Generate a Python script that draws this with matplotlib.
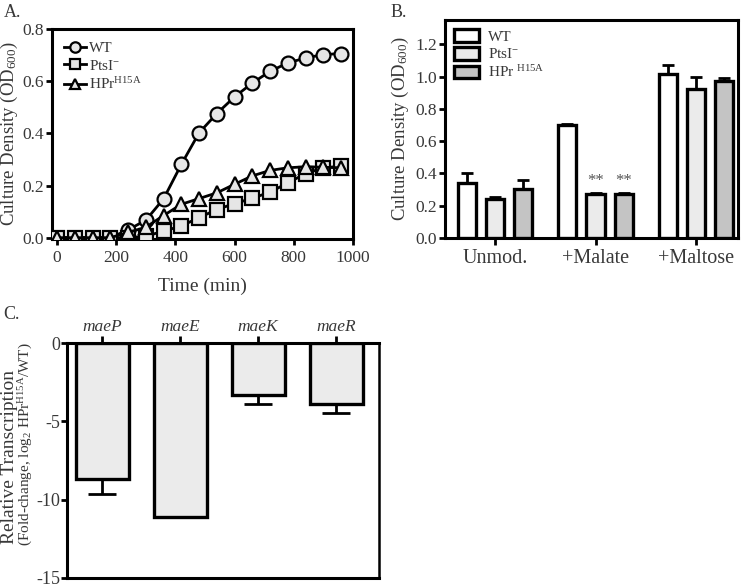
import matplotlib
matplotlib.use("Agg")
import matplotlib.pyplot as plt
import numpy as np

plt.rcParams['font.family'] = ['Liberation Serif', 'DejaVu Serif']
plt.rcParams['mathtext.fontset'] = 'custom'
plt.rcParams['mathtext.rm'] = 'Liberation Serif'
plt.rcParams['mathtext.it'] = 'Liberation Serif:italic'

TXT = '#383838'

# ---------------- Data ----------------
# Panel A: growth curves
time_min = [0, 60, 120, 180, 240, 300, 360, 420, 480, 540, 600, 660, 720, 780, 840, 900, 960]
wt_od = [0.0, 0.0, 0.0, 0.0, 0.03, 0.067, 0.149, 0.281, 0.402, 0.476, 0.54, 0.593, 0.638, 0.67, 0.689, 0.702, 0.706]
ptsI_od = [0.0, 0.0, 0.0, 0.0, 0.0, 0.006, 0.025, 0.045, 0.077, 0.108, 0.131, 0.151, 0.175, 0.21, 0.246, 0.268, 0.274]
hpr_od = [0.0, 0.0, 0.0, 0.0, 0.02, 0.04, 0.085, 0.128, 0.15, 0.172, 0.205, 0.237, 0.258, 0.268, 0.272, 0.27, 0.268]

# Panel B: final densities
conditions = ['Unmod.', '+Malate', '+Maltose']
wt_bar = [0.34, 0.70, 1.015]
wt_err = [0.06, 0.008, 0.055]
ptsI_bar = [0.24, 0.275, 0.92]
ptsI_err = [0.012, 0.003, 0.08]
hpr_bar = [0.305, 0.27, 0.97]
hpr_err = [0.055, 0.01, 0.022]
strain_labels = ['WT', 'PtsI$^{-}$', 'HPr $^{\\mathrm{H15A}}$']

# Panel C: relative transcription
genes = ['maeP', 'maeE', 'maeK', 'maeR']
rel_tx = [-8.65, -11.1, -3.3, -3.9]
rel_err = [1.0, 0.0, 0.58, 0.58]

# ---------------- Figure ----------------
W, H = 750, 586
fig = plt.figure(figsize=(W / 100, H / 100), dpi=100)

def ax_px(l, r, t, b):
    return fig.add_axes([l / W, (H - b) / H, (r - l) / W, (b - t) / H])

def style_spines(ax, lw=2.2):
    for s in ax.spines.values():
        s.set_linewidth(lw)

# ---- Panel A ----
axA = ax_px(52, 353, 29, 239)
mk = dict(markersize=10, markeredgewidth=1.6, markeredgecolor='black',
          markerfacecolor='#e6e6e6', color='black', linewidth=2.0)
axA.plot(time_min, wt_od, marker='o', label='WT', zorder=3, **mk)
axA.plot(time_min, ptsI_od, marker='s', label='PtsI$^{-}$', zorder=4, **mk)
axA.plot(time_min, hpr_od, marker='^', label='HPr$^{\\mathrm{H15A}}$', zorder=5, **mk)
axA.set_xlim(-17, 1000)
axA.set_ylim(-0.005, 0.8)
axA.set_xticks(np.arange(0, 1001, 200))
axA.set_yticks(np.arange(0, 0.81, 0.2))
axA.set_yticklabels([f'{v:.1f}' for v in np.arange(0, 0.81, 0.2)])
axA.tick_params(axis='y', direction='out', length=4, width=2, labelsize=12.5, labelcolor=TXT, pad=1.5)
axA.tick_params(axis='x', direction='out', length=4, width=2, labelsize=12.5, labelcolor=TXT, pad=4)
axA.set_xlabel('Time (min)', fontsize=14, color=TXT, labelpad=8)
axA.set_ylabel('Culture Density (OD$_{600}$)', fontsize=13.5, color=TXT, labelpad=2)
style_spines(axA)
axA.legend(loc='upper left', frameon=False, fontsize=11, handlelength=1.4,
           markerscale=0.75, borderaxespad=0.4, labelspacing=0.25,
           handletextpad=0.2, labelcolor=TXT)

# ---- Panel B ----
axB = ax_px(445, 738, 20, 238)
xg = np.arange(len(conditions))
off = 0.28
bw = 0.18
bkw = dict(edgecolor='black', linewidth=2.4, zorder=3)
ekw = dict(elinewidth=2.0, capthick=2.0, ecolor='black')
axB.bar(xg - off, wt_bar, bw, color='white', label=strain_labels[0], **bkw)
axB.bar(xg, ptsI_bar, bw, color='#ebebeb', label=strain_labels[1], **bkw)
axB.bar(xg + off, hpr_bar, bw, color='#c4c4c4', label=strain_labels[2], **bkw)
for xs, vals, errs in [(xg - off, wt_bar, wt_err), (xg, ptsI_bar, ptsI_err), (xg + off, hpr_bar, hpr_err)]:
    axB.errorbar(xs, vals, yerr=[np.zeros(len(errs)), errs], fmt='none', capsize=4.5, zorder=2, **ekw)
axB.text(1, 0.355, '**', ha='center', va='center', fontsize=12, color='#555555')
axB.text(1 + off, 0.355, '**', ha='center', va='center', fontsize=12, color='#555555')
axB.set_xlim(-0.5, 2.42)
axB.set_ylim(0, 1.35)
axB.set_yticks(np.arange(0, 1.21, 0.2))
axB.set_yticklabels([f'{v:.1f}' for v in np.arange(0, 1.21, 0.2)])
axB.set_xticks(xg)
axB.set_xticklabels(conditions)
axB.tick_params(axis='y', direction='out', length=4, width=2, labelsize=12.5, labelcolor=TXT, pad=1.5)
axB.tick_params(axis='x', direction='out', length=5, width=2, labelsize=14.5, labelcolor=TXT, pad=3)
axB.set_ylabel('Culture Density (OD$_{600}$)', fontsize=13.5, color=TXT, labelpad=3)
style_spines(axB)
axB.legend(loc='upper left', frameon=False, fontsize=11, handlelength=1.6, handleheight=0.9,
           borderaxespad=0.2, labelspacing=0.2, handletextpad=0.6, labelcolor=TXT)

# ---- Panel C ----
axC = ax_px(67, 379, 343, 578)
xc = np.arange(len(genes))
axC.bar(xc, rel_tx, 0.68, color='#ebebeb', edgecolor='black', linewidth=2.4, zorder=3)
axC.errorbar(xc, rel_tx, yerr=[rel_err, np.zeros(len(rel_err))], fmt='none', capsize=10,
             elinewidth=2.0, capthick=2.0, ecolor='black', zorder=2)
axC.set_xlim(-0.45, 3.55)
axC.set_ylim(-15, 0)
axC.set_yticks([0, -5, -10, -15])
axC.set_yticklabels(['0', '-5', '-10', '-15'])
axC.xaxis.tick_top()
axC.set_xticks(xc)
axC.set_xticklabels(genes, fontstyle='italic')
axC.tick_params(axis='x', direction='out', length=5, width=2, labelsize=12.5, labelcolor=TXT, pad=1)
axC.tick_params(axis='y', direction='out', length=4, width=2, labelsize=13, labelcolor=TXT, pad=1)
style_spines(axC)
axC.spines['right'].set_linewidth(1.8)
fig.text(10 / W, 1 - 457 / H, 'Relative Transcription', rotation=90, ha='center', va='center',
         fontsize=14, color=TXT)
fig.text(26 / W, 1 - 444 / H, '(Fold-change, log$_{2}$ HPr$^{\\mathrm{H15A}}$/WT)', rotation=90,
         ha='center', va='center', fontsize=11, color=TXT)

# Panel letters
fig.text(4 / W, 1 - 4 / H, 'A.', ha='left', va='top', fontsize=13, color=TXT)
fig.text(391 / W, 1 - 4 / H, 'B.', ha='left', va='top', fontsize=13, color=TXT)
fig.text(3 / W, 1 - 306 / H, 'C.', ha='left', va='top', fontsize=13, color=TXT)

fig.savefig('out.png', dpi=100)
